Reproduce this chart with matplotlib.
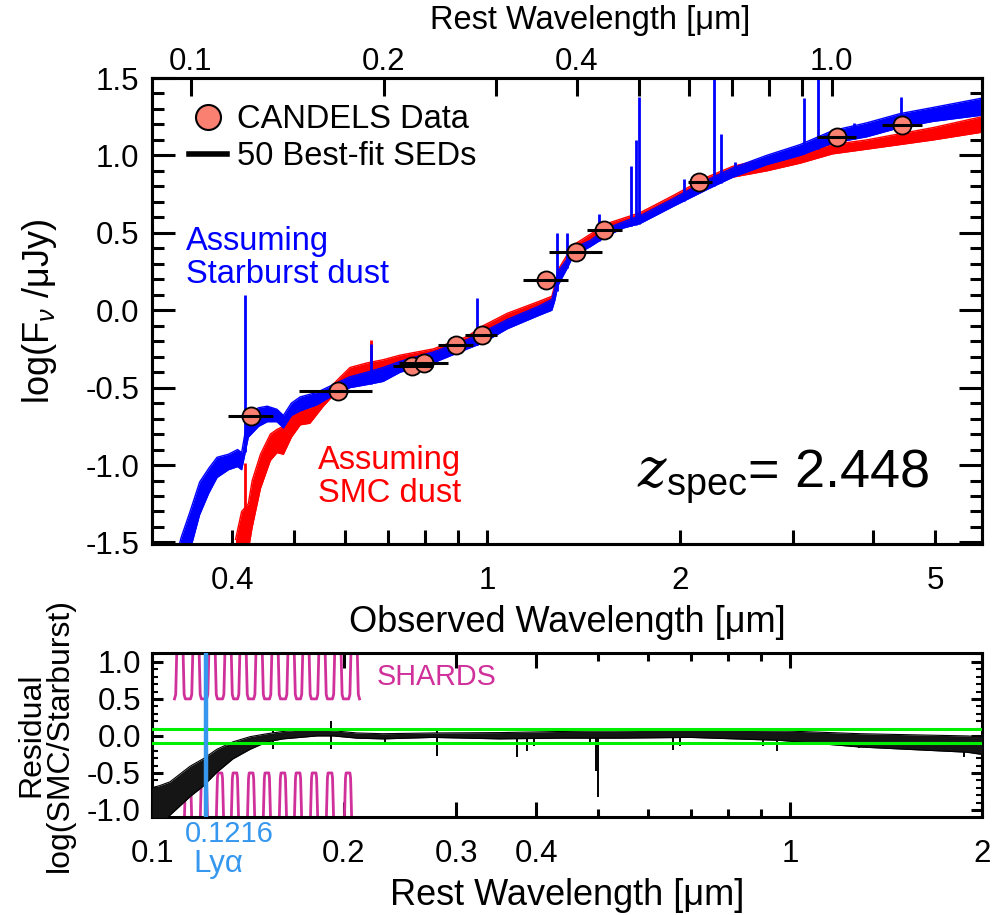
import numpy as np
import matplotlib
matplotlib.use("Agg")
import matplotlib.pyplot as plt
from matplotlib.lines import Line2D
from matplotlib.ticker import FixedLocator, FixedFormatter, MultipleLocator, FormatStrFormatter, NullFormatter

plt.rcParams['font.family'] = ['Liberation Sans', 'DejaVu Sans']
plt.rcParams['mathtext.fontset'] = 'custom'
plt.rcParams['mathtext.rm'] = 'Liberation Sans'
plt.rcParams['mathtext.it'] = 'Liberation Sans:italic'
plt.rcParams['mathtext.cal'] = 'DejaVu Serif:italic'
plt.rcParams['axes.unicode_minus'] = False

Z_SPEC = 2.448

# ---------------- photometry (observed frame, micron) ----------------
phot_wave = np.array([0.428, 0.5855, 0.764, 0.797, 0.895, 0.982, 1.236, 1.377, 1.522, 2.142, 3.516, 4.44])
phot_logf = np.array([-0.684, -0.523, -0.361, -0.342, -0.226, -0.158, 0.194, 0.376, 0.516, 0.828, 1.118, 1.194])
phot_wmin = np.array([0.394, 0.509, 0.713, 0.730, 0.839, 0.924, 1.138, 1.249, 1.432, 2.059, 3.272, 4.133])
phot_wmax = np.array([0.464, 0.662, 0.824, 0.869, 0.951, 1.037, 1.338, 1.512, 1.624, 2.244, 3.764, 4.771])

# ---------------- best-fit SED envelopes (observed frame) ----------------
# Starburst (Calzetti) attenuation
sb_wave = np.array([0.318, 0.326, 0.333, 0.344, 0.356, 0.368, 0.379, 0.395, 0.408, 0.414, 0.424,
                    0.440, 0.454, 0.470, 0.481, 0.495, 0.511, 0.543, 0.569, 0.611, 0.650, 0.688,
                    0.732, 0.824, 0.931, 0.986, 1.075, 1.21, 1.262, 1.275, 1.29, 1.333, 1.362,
                    1.448, 1.539, 1.629, 1.733, 1.95, 2.204, 2.42, 2.73, 3.08, 3.46, 3.91, 4.41,
                    4.97, 5.92])
sb_hi = np.array([-1.75, -1.62, -1.47, -1.30, -1.11, -1.02, -0.95, -0.93, -0.90, -0.92, -0.67,
                  -0.63, -0.62, -0.64, -0.68, -0.60, -0.56, -0.53, -0.49, -0.43, -0.40, -0.37,
                  -0.33, -0.27, -0.19, -0.14, -0.06, 0.03, 0.07, 0.14, 0.25, 0.33, 0.40,
                  0.45, 0.53, 0.57, 0.61, 0.72, 0.84, 0.92, 1.00, 1.07, 1.16, 1.21, 1.27,
                  1.31, 1.37])
sb_lo = np.array([-2.00, -1.90, -1.75, -1.55, -1.32, -1.18, -1.08, -1.03, -1.01, -1.03, -0.82,
                  -0.75, -0.72, -0.72, -0.76, -0.68, -0.65, -0.61, -0.56, -0.50, -0.48, -0.46,
                  -0.40, -0.34, -0.25, -0.21, -0.12, -0.03, 0.00, 0.06, 0.16, 0.27, 0.35,
                  0.41, 0.48, 0.53, 0.56, 0.67, 0.78, 0.86, 0.94, 1.00, 1.08, 1.12, 1.18,
                  1.22, 1.26])

# SMC attenuation
smc_wave = np.array([0.405, 0.414, 0.424, 0.430, 0.443, 0.459, 0.470, 0.481, 0.495, 0.511, 0.529,
                     0.555, 0.584, 0.611, 0.650, 0.688, 0.732, 0.824, 0.931, 0.986, 1.075, 1.21,
                     1.262, 1.275, 1.29, 1.362, 1.539, 1.733, 1.95, 2.204, 2.42, 2.73, 3.08,
                     3.46, 3.91, 4.41, 4.97, 5.92])
smc_hi = np.array([-1.48, -1.30, -1.25, -1.10, -0.93, -0.80, -0.77, -0.75, -0.68, -0.62, -0.63,
                   -0.55, -0.45, -0.37, -0.34, -0.32, -0.29, -0.25, -0.17, -0.10, -0.02, 0.06,
                   0.09, 0.16, 0.26, 0.42, 0.56, 0.63, 0.74, 0.86, 0.93, 0.98, 1.03,
                   1.07, 1.10, 1.14, 1.18, 1.25])
smc_lo = np.array([-1.90, -1.60, -1.55, -1.40, -1.15, -0.97, -0.92, -0.93, -0.82, -0.74, -0.73,
                   -0.62, -0.52, -0.45, -0.41, -0.39, -0.35, -0.31, -0.22, -0.16, -0.08, 0.01,
                   0.03, 0.09, 0.19, 0.37, 0.50, 0.58, 0.69, 0.80, 0.86, 0.90, 0.95,
                   1.01, 1.04, 1.07, 1.10, 1.15])

# nebular emission lines (rest micron) and peak log flux
sb_line_rest = np.array([0.1216, 0.1549, 0.1909, 0.2799, 0.3727, 0.3869, 0.4341, 0.4861, 0.4959,
                         0.5007, 0.5876, 0.6563, 0.6724, 0.7065, 0.9069, 0.9531, 1.083, 1.282])
sb_line_peak = np.array([0.10, -0.52, -0.22, 0.08, 0.50, 0.50, 0.62, 0.93, 1.10,
                         1.38, 0.85, 1.60, 1.14, 0.96, 1.37, 1.60, 1.21, 1.38])
smc_line_rest = np.array([0.1216, 0.1909])
smc_line_peak = np.array([-0.99, -0.19])

# ---------------- residual log(SMC/Starburst) (rest frame) ----------------
res_wave = np.array([0.1, 0.1029, 0.1067, 0.1147, 0.1202, 0.1264, 0.1339, 0.1425, 0.1515, 0.1604,
                     0.1706, 0.1814, 0.1922, 0.2095, 0.2302, 0.2757, 0.3508, 0.4363, 0.5416,
                     0.6974, 0.9639, 1.289, 1.893, 2.0])
res_hi = np.array([-0.70, -0.67, -0.62, -0.41, -0.31, -0.18, -0.08, -0.01, 0.03, 0.06,
                   0.08, 0.08, 0.07, 0.04, 0.03, 0.04, 0.045, 0.06, 0.07,
                   0.08, 0.07, 0.03, 0.00, -0.01])
res_lo = np.array([-1.25, -1.20, -1.07, -0.82, -0.68, -0.49, -0.31, -0.18, -0.08, -0.04,
                   -0.02, 0.00, 0.00, -0.03, -0.04, -0.02, -0.04, -0.03, -0.03,
                   -0.02, -0.06, -0.15, -0.22, -0.25])
res_spike_wave = np.array([0.1549, 0.1549, 0.1909, 0.1909, 0.2318, 0.2799, 0.2799, 0.3727, 0.3869,
                           0.3970, 0.4861, 0.4959, 0.5007, 0.6563, 0.6724, 0.9069, 0.9531,
                           0.9531, 1.282, 1.875])
res_spike_tip = np.array([-0.18, 0.07, -0.17, 0.20, -0.10, -0.27, 0.10, -0.29, -0.20,
                          -0.13, -0.10, -0.47, -0.82, -0.19, -0.14, -0.13, -0.20,
                          0.08, -0.16, -0.29])

# ---------------- SHARDS medium-band filters (rest micron) ----------------
shards_upper = np.array([0.1106, 0.1172, 0.1242, 0.1316, 0.1389, 0.1472, 0.1559, 0.1652,
                         0.1743, 0.1847, 0.1956, 0.2074])
shards_lower = np.array([0.1139, 0.1206, 0.1278, 0.1349, 0.1430, 0.1514, 0.1604, 0.1694,
                         0.1795, 0.1901, 0.2029])
filter_dex = np.array([-0.0085, -0.0066, -0.0052, -0.0040, -0.0030, 0.0030, 0.0040, 0.0052, 0.0066, 0.0085])
filter_trans = np.array([0.0, 0.06, 0.55, 0.93, 1.0, 1.0, 0.93, 0.55, 0.06, 0.0])

LYA = 0.1216

# ---------------- figure ----------------
W, H = 997, 915
fig = plt.figure(figsize=(W / 100, H / 100), dpi=100)


def frame(l, t, r, b):
    return [l / W, 1 - b / H, (r - l) / W, (b - t) / H]


ax = fig.add_axes(frame(152, 78, 982, 544))
ax2 = fig.add_axes(frame(152, 653, 982, 817))

TICK_FS = 22.5
LAB_FS = 26
ANN_FS = 23.5
SPINE_W = 2.2

# --- top panel: SEDs ---
ax.set_xscale('log')
ax.set_xlim(0.30, 5.92)
ax.set_ylim(-1.51, 1.50)

ax.fill_between(smc_wave, smc_lo, smc_hi, color='red', lw=0, zorder=2)
ax.plot(smc_wave, smc_hi, color='red', lw=1.0, zorder=2)
ax.plot(smc_wave, smc_lo, color='red', lw=1.0, zorder=2)
smc_line_obs = smc_line_rest * (1 + Z_SPEC)
smc_base = np.interp(np.log10(smc_line_obs), np.log10(smc_wave), smc_lo)
ax.vlines(smc_line_obs, smc_base, smc_line_peak, color='red', lw=2.0, zorder=2)

ax.fill_between(sb_wave, sb_lo, sb_hi, color='blue', lw=0, zorder=3)
ax.plot(sb_wave, sb_hi, color='blue', lw=1.0, zorder=3)
ax.plot(sb_wave, sb_lo, color='blue', lw=1.0, zorder=3)
sb_line_obs = sb_line_rest * (1 + Z_SPEC)
sb_base = np.interp(np.log10(sb_line_obs), np.log10(sb_wave), sb_lo)
ax.vlines(sb_line_obs, sb_base, sb_line_peak, color='blue', lw=2.0, zorder=3)

ax.plot(phot_wave, phot_logf, 'o', ms=13, mfc='salmon', mec='black', mew=1.3, zorder=5)
ax.hlines(phot_logf, phot_wmin, phot_wmax, color='black', lw=2.2, zorder=6)

legend_handles = [
    Line2D([], [], ls='none', marker='o', ms=18, mfc='salmon', mec='black', mew=1.5),
    Line2D([], [], color='black', lw=4),
]
ax.legend(legend_handles, ['CANDELS Data', '50 Best-fit SEDs'], loc='upper left',
          bbox_to_anchor=(0.045, 0.944), frameon=False, fontsize=ANN_FS,
          handlelength=1.15, handletextpad=0.3, labelspacing=0.18,
          borderpad=0, borderaxespad=0)

ax.text(0.041, 0.631, 'Assuming', color='blue', fontsize=ANN_FS, transform=ax.transAxes, va='baseline')
ax.text(0.041, 0.560, 'Starburst dust', color='blue', fontsize=ANN_FS, transform=ax.transAxes, va='baseline')
ax.text(0.200, 0.160, 'Assuming', color='red', fontsize=ANN_FS, transform=ax.transAxes, va='baseline')
ax.text(0.200, 0.090, 'SMC dust', color='red', fontsize=ANN_FS, transform=ax.transAxes, va='baseline')
ax.text(0.937, 0.12, r'$\mathcal{z}_{\mathrm{spec}}$' + '= %.3f' % Z_SPEC, fontsize=39,
        transform=ax.transAxes, ha='right', va='baseline')

# x ticks (observed)
ax.xaxis.set_major_locator(FixedLocator([0.4, 1, 2, 5]))
ax.xaxis.set_major_formatter(FixedFormatter(['0.4', '1', '2', '5']))
ax.xaxis.set_minor_locator(FixedLocator([0.5, 0.6, 0.7, 0.8, 0.9, 3, 4]))
ax.xaxis.set_minor_formatter(NullFormatter())
ax.yaxis.set_major_locator(MultipleLocator(0.5))
ax.yaxis.set_minor_locator(MultipleLocator(0.1))
ax.yaxis.set_major_formatter(FormatStrFormatter('%.1f'))
ax.tick_params(axis='x', which='both', direction='in', top=False, bottom=True,
               length=10, width=SPINE_W, labelsize=TICK_FS, pad=16)
ax.tick_params(axis='y', which='major', direction='in', left=True, right=True,
               length=16.5, width=SPINE_W, labelsize=TICK_FS, pad=9)
ax.tick_params(axis='y', which='minor', direction='in', left=True, right=True,
               length=8.5, width=SPINE_W)
for tk in ax.xaxis.get_major_ticks():
    if abs(tk.get_loc() - 1) < 1e-6:
        tk.tick1line.set_markersize(19)
ax.set_xlabel('Observed Wavelength [μm]', fontsize=LAB_FS)
ax.xaxis.set_label_coords(0.5, -0.13)
ax.set_ylabel(r'log(F$_{\nu}$ /μJy)', fontsize=LAB_FS)
ax.yaxis.set_label_coords(-0.112, 0.5)
for s in ax.spines.values():
    s.set_linewidth(SPINE_W)

# rest-frame axis on top
axt = ax.twiny()
axt.set_xscale('log')
axt.set_xlim(0.30 / (1 + Z_SPEC), 5.92 / (1 + Z_SPEC))
rest_ticks = [0.1, 0.2, 0.3, 0.4, 0.5, 0.6, 0.7, 0.8, 0.9, 1.0]
rest_labels = ['0.1', '0.2', '', '0.4', '', '', '', '', '', '1.0']
axt.xaxis.set_major_locator(FixedLocator(rest_ticks))
axt.xaxis.set_major_formatter(FixedFormatter(rest_labels))
axt.xaxis.set_minor_locator(FixedLocator([]))
axt.tick_params(axis='x', which='both', direction='in', length=13, width=SPINE_W,
                labelsize=TICK_FS, pad=1)
axt.set_xlabel('Rest Wavelength [μm]', fontsize=ANN_FS)
axt.xaxis.set_label_coords(0.528, 1.105)
for s in axt.spines.values():
    s.set_linewidth(SPINE_W)

# --- bottom panel: residuals ---
ax2.set_xscale('log')
ax2.set_xlim(0.1, 2.0)
ax2.set_ylim(-1.095, 1.12)

shards_color = '#d0309a'
for centres, base in ((shards_upper, 0.5), (shards_lower, -1.5)):
    fx, fy = [], []
    for c in centres:
        fx.extend(c * 10 ** filter_dex)
        fy.extend(base + filter_trans)
    ax2.plot(fx, fy, color=shards_color, lw=2.0, zorder=2)

ax2.fill_between(res_wave, res_lo, res_hi, color='#151515', lw=0, zorder=3)
ax2.plot(res_wave, res_hi, color='black', lw=0.8, zorder=3)
ax2.plot(res_wave, res_lo, color='black', lw=0.8, zorder=3)
res_base = np.where(res_spike_tip < 0,
                    np.interp(np.log10(res_spike_wave), np.log10(res_wave), res_lo),
                    np.interp(np.log10(res_spike_wave), np.log10(res_wave), res_hi))
ax2.vlines(res_spike_wave, res_base, res_spike_tip, color='black', lw=1.4, zorder=3)

ax2.axhline(0.1, color='#00ee00', lw=2.2, zorder=4)
ax2.axhline(-0.1, color='#00ee00', lw=2.2, zorder=4)
lya_color = '#3597ee'
ax2.axvline(LYA, color=lya_color, lw=3.2, zorder=5)
ax2.text(0.0398, -0.155, '%.4f' % LYA, color=lya_color, fontsize=21, transform=ax2.transAxes,
         va='baseline', clip_on=False)
ax2.text(0.0494, -0.338, 'Lyα', color=lya_color, fontsize=22.5, transform=ax2.transAxes,
         va='baseline', clip_on=False)
ax2.text(0.271, 0.805, 'SHARDS', color=shards_color, fontsize=20.7, transform=ax2.transAxes,
         va='baseline')

ax2.xaxis.set_major_locator(FixedLocator([0.1, 0.2, 0.3, 0.4, 1, 2]))
ax2.xaxis.set_major_formatter(FixedFormatter(['0.1', '0.2', '0.3', '0.4', '1', '2']))
ax2.xaxis.set_minor_locator(FixedLocator([0.5, 0.6, 0.7, 0.8, 0.9]))
ax2.xaxis.set_minor_formatter(NullFormatter())
ax2.yaxis.set_major_locator(MultipleLocator(0.5))
ax2.yaxis.set_minor_locator(MultipleLocator(0.1))
ax2.yaxis.set_major_formatter(FormatStrFormatter('%.1f'))
ax2.tick_params(axis='x', which='major', direction='in', top=True, bottom=True,
                length=11, width=SPINE_W, labelsize=TICK_FS, pad=16)
ax2.tick_params(axis='x', which='minor', direction='in', top=True, bottom=True,
                length=5.5, width=SPINE_W)
ax2.tick_params(axis='y', which='major', direction='in', left=True, right=True,
                length=8, width=SPINE_W, labelsize=TICK_FS, pad=8)
ax2.tick_params(axis='y', which='minor', direction='in', left=True, right=True,
                length=4, width=1.5)
ax2.set_xlabel('Rest Wavelength [μm]', fontsize=LAB_FS)
ax2.xaxis.set_label_coords(0.5, -0.37)
ax2.set_ylabel('Residual\nlog(SMC/Starburst)', fontsize=23, linespacing=0.95)
ax2.yaxis.set_label_coords(-0.093, 0.5)
for s in ax2.spines.values():
    s.set_linewidth(SPINE_W)

fig.savefig('out.png', dpi=100)
